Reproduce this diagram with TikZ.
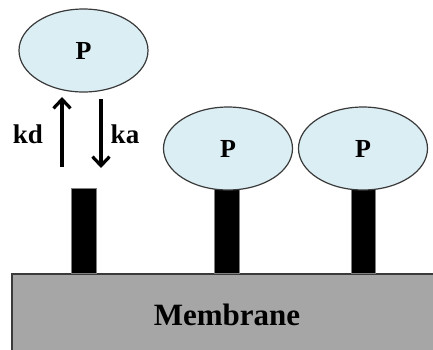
\documentclass[tikz,border=0pt]{standalone}
\usepackage{fontspec}
\setmainfont{Liberation Serif}
\usetikzlibrary{shapes.geometric,arrows.meta}
\definecolor{protfill}{HTML}{DBEEF4}
\definecolor{memfill}{HTML}{A6A6A6}
\definecolor{edge}{HTML}{3A3A3A}
\tikzset{
  prot/.style={ellipse, draw=edge, line width=1.2pt, fill=protfill, minimum width=129pt, minimum height=83pt, inner sep=0pt, font=\fontsize{26}{26}\selectfont\bfseries},
  stick/.style={rectangle, fill=black, draw=gray, line width=0.6pt, minimum width=24.5pt, inner sep=0pt},
  membrane/.style={rectangle, draw=edge, line width=1.4pt, fill=memfill, minimum width=430pt, minimum height=82pt, inner sep=0pt, font=\fontsize{31}{31}\selectfont\bfseries},
  rate/.style={font=\fontsize{27}{27}\selectfont\bfseries, inner sep=0pt},
  arr/.style={line width=3.2pt, -{Straight Barb[length=9pt,width=17pt]}}
}
\begin{document}
\begin{tikzpicture}[x=1pt,y=-1pt]
\clip (0,0) rectangle (433,349);
\fill[white] (0,0) rectangle (433,349);
% membrane
\node[membrane] (mem) at (227,315) {Membrane};
% sticks
\node[stick, minimum height=85pt, anchor=south] (s1) at (84,274) {};
\node[stick, minimum height=110pt, anchor=south] (s2) at (227,274) {};
\node[stick, minimum height=110pt, anchor=south] (s3) at (363.5,274) {};
% proteins
\node[prot] (p1) at (83.5,50.5) {P};
\node[prot] (p2) at (228,148.5) {P};
\node[prot] (p3) at (363,148.5) {P};
% arrows
\coordinate (upstart) at (62,167);
\coordinate (upend) at (62,97);
\coordinate (downstart) at (101,99);
\coordinate (downend) at (101,168);
\draw[arr] (upstart) -- (upend);
\draw[arr] (downstart) -- (downend);
\node[rate] (kd) at (28,134) {kd};
\node[rate] (ka) at (125,134) {ka};
\end{tikzpicture}
\end{document}
